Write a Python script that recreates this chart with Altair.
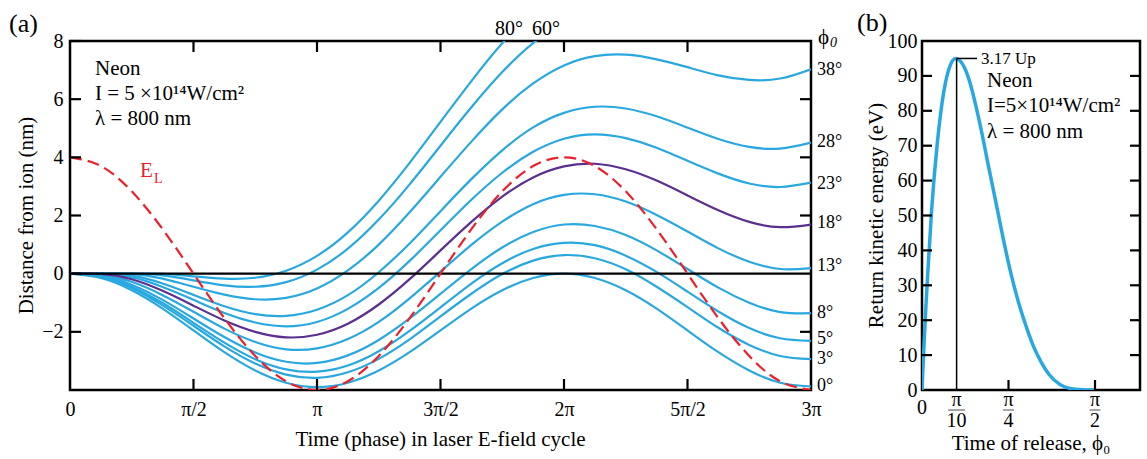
import altair as alt
import pandas as pd

BLUE = "#29a8e0"
PURPLE = "#5b2f8f"
RED = "#e8212d"
FONT = "Liberation Serif"

# ---------------- panel (a) data: time in units of pi ----------------
T = [0, 0.125, 0.25, 0.375, 0.5, 0.625, 0.75, 0.875, 1.0, 1.125, 1.25, 1.375, 1.5,
     1.625, 1.75, 1.875, 2.0, 2.125, 2.25, 2.375, 2.5, 2.625, 2.75, 2.875, 3.0]

D0 = [0, -0.15, -0.57, -1.20, -1.95, -2.70, -3.33, -3.75, -3.90, -3.75, -3.33, -2.70, -1.95,
      -1.20, -0.57, -0.15, 0, -0.15, -0.57, -1.20, -1.95, -2.70, -3.33, -3.75, -3.88]
D3 = [0, -0.11, -0.49, -1.09, -1.79, -2.50, -3.09, -3.47, -3.58, -3.39, -2.93, -2.26, -1.47,
      -0.69, -0.01, 0.45, 0.64, 0.53, 0.15, -0.45, -1.15, -1.86, -2.45, -2.83, -2.94]
D5 = [0, -0.09, -0.45, -1.01, -1.69, -2.37, -2.94, -3.29, -3.37, -3.16, -2.67, -1.97, -1.16,
      -0.34, 0.36, 0.85, 1.06, 0.98, 0.62, 0.06, -0.62, -1.30, -1.87, -2.22, -2.31]
D8 = [0, -0.06, -0.38, -0.90, -1.54, -2.18, -2.71, -3.03, -3.07, -2.81, -2.28, -1.54, -0.69,
      0.16, 0.90, 1.43, 1.69, 1.64, 1.33, 0.80, 0.16, -0.48, -1.00, -1.32, -1.36]
D13 = [0, -0.03, -0.28, -0.74, -1.31, -1.89, -2.35, -2.60, -2.57, -2.25, -1.66, -0.85, 0.07,
       0.99, 1.79, 2.39, 2.71, 2.73, 2.48, 2.02, 1.45, 0.87, 0.41, 0.16, 0.19]
D18 = [0, -0.01, -0.19, -0.59, -1.10, -1.61, -2.00, -2.19, -2.10, -1.72, -1.06, -0.19, 0.80,
       1.78, 2.65, 3.31, 3.69, 3.78, 3.59, 3.20, 2.69, 2.18, 1.78, 1.60, 1.69]
D23 = [0, 0, -0.12, -0.46, -0.90, -1.35, -1.68, -1.81, -1.66, -1.21, -0.49, 0.44, 1.49,
       2.54, 3.47, 4.19, 4.64, 4.79, 4.66, 4.33, 3.88, 3.44, 3.10, 2.98, 3.13]
D28 = [0, 0, -0.07, -0.34, -0.73, -1.12, -1.39, -1.45, -1.24, -0.74, 0.05, 1.04, 2.15,
       3.25, 4.24, 5.03, 5.53, 5.74, 5.68, 5.41, 5.02, 4.63, 4.36, 4.30, 4.51]
D38 = [0, 0, -0.01, -0.17, -0.45, -0.72, -0.88, -0.83, -0.51, 0.11, 1.00, 2.11, 3.33,
       4.54, 5.65, 6.54, 7.16, 7.48, 7.53, 7.37, 7.10, 6.82, 6.66, 6.71, 7.03]
D60 = [0, 0, 0, -0.06, -0.23, -0.40, -0.45, -0.29, 0.14, 0.86, 1.86, 3.07, 4.40,
       5.72, 6.93, 7.93, 8.66]
D80 = [0, 0, 0, -0.01, -0.09, -0.17, -0.14, 0.10, 0.61, 1.42, 2.51, 3.81, 5.22,
       6.62, 7.92, 9.01]

EL = [4.0, 3.70, 2.83, 1.53, 0.0, -1.53, -2.83, -3.70, -4.0, -3.70, -2.83, -1.53, 0.0,
      1.53, 2.83, 3.70, 4.0, 3.70, 2.83, 1.53, 0.0, -1.53, -2.83, -3.70, -4.0]

CURVES = {"0": D0, "3": D3, "5": D5, "8": D8, "13": D13, "18": D18, "23": D23,
          "28": D28, "38": D38, "60": D60, "80": D80}
PURPLE_CURVE = "18"

RIGHT_LABELS = ["38°", "28°", "23°", "18°", "13°", "8°", "5°", "3°", "0°"]
RIGHT_LABEL_Y = [7.0, 4.52, 3.1, 1.74, 0.27, -1.34, -2.26, -2.95, -3.86]

X_TICKS_A = [0, 0.5, 1, 1.5, 2, 2.5, 3]
X_TICK_LABELS_A = ["0", "π/2", "π", "3π/2", "2π", "5π/2", "3π"]
Y_TICKS_A = [-2, 0, 2, 4, 6, 8]
INNER_X_TICKS_A = [0.5, 1, 1.5, 2, 2.5]
RIGHT_Y_TICKS_A = [-2, 2, 4, 6]

# ---------------- panel (b) data: release phase in degrees ----------------
DEG = [0, 1, 2, 3, 5, 8, 10, 12, 14, 17.5, 22, 25, 28, 31, 35, 38, 42, 46, 50, 54, 58,
       62, 66, 72, 80, 90]
ENERGY = [0, 12.5, 23.5, 33.5, 51.5, 71, 80.5, 87.5, 92, 95, 92.5, 88, 81.5, 74, 63, 55,
          44, 34, 25.5, 18.5, 12.5, 8, 4.5, 1.5, 0.2, 0]
Y_TICKS_B = [0, 10, 20, 30, 40, 50, 60, 70, 80, 90, 100]
INNER_Y_TICKS_B = [10, 20, 30, 40, 50, 60, 70, 80, 90]
FRAC_DEG = [18, 45, 90]
FRAC_DEN = ["10", "4", "2"]
FRAC_W = [17, 11, 11]

WA, H, WB = 741, 349, 218
FS = 21

# ---------------- build panel (a) ----------------
rows = []
for name, vals in CURVES.items():
    for t, v in zip(T, vals):
        rows.append({"curve": name, "t": t, "x": v})
df = pd.DataFrame(rows)
df_blue = df[df.curve != PURPLE_CURVE]
df_purple = df[df.curve == PURPLE_CURVE]
df_el = pd.DataFrame({"t": T, "x": EL})

label_expr = " : ".join(
    f"datum.value == {v} ? '{s}'" for v, s in zip(X_TICKS_A[:-1], X_TICK_LABELS_A[:-1])
) + f" : '{X_TICK_LABELS_A[-1]}'"

xa = alt.X("t:Q", scale=alt.Scale(domain=[0, 3], nice=False, zero=False),
           axis=alt.Axis(values=X_TICKS_A, labelExpr=label_expr, title=None,
                         labelFlush=False, labelPadding=9))
ya = alt.Y("x:Q", scale=alt.Scale(domain=[-4, 8], nice=False, zero=False),
           axis=alt.Axis(values=Y_TICKS_A, title=None, labelPadding=7))


def txt(s, x, y, size=FS, align="left", color="black", style="normal", angle=0):
    return alt.Chart(pd.DataFrame({"s": [s]})).mark_text(
        font=FONT, fontSize=size, align=align, baseline="middle", color=color,
        fontStyle=style, angle=angle
    ).encode(x=alt.value(x), y=alt.value(y), text="s:N")


blue = alt.Chart(df_blue).mark_line(color=BLUE, strokeWidth=2.2, interpolate="natural",
                                    clip=True).encode(x=xa, y=ya, detail="curve:N")
purple = alt.Chart(df_purple).mark_line(color=PURPLE, strokeWidth=2.2, interpolate="natural",
                                        clip=True).encode(x=xa, y=ya)
zero = alt.Chart(pd.DataFrame({"x": [0]})).mark_rule(color="black", strokeWidth=2.2).encode(y=ya)
el = alt.Chart(df_el).mark_line(color=RED, strokeWidth=2.2, strokeDash=[12, 6],
                                interpolate="natural", clip=True).encode(x=xa, y=ya)

lt = alt.Chart(pd.DataFrame({"x": Y_TICKS_A})).mark_rule(color="black", strokeWidth=2.2).encode(
    y=ya, x=alt.value(0), x2=alt.value(11))
rt = alt.Chart(pd.DataFrame({"x": RIGHT_Y_TICKS_A})).mark_rule(color="black", strokeWidth=2.2).encode(
    y=ya, x=alt.value(WA - 11), x2=alt.value(WA))
tt = alt.Chart(pd.DataFrame({"t": INNER_X_TICKS_A})).mark_rule(color="black", strokeWidth=2.2).encode(
    x=xa, y=alt.value(0), y2=alt.value(11))
bt = alt.Chart(pd.DataFrame({"t": INNER_X_TICKS_A})).mark_rule(color="black", strokeWidth=2.2).encode(
    x=xa, y=alt.value(H - 11), y2=alt.value(H))

rlab = alt.Chart(pd.DataFrame({"x": RIGHT_LABEL_Y, "lab": RIGHT_LABELS})).mark_text(
    font=FONT, fontSize=18, align="left", baseline="middle", color="black"
).encode(y=ya, x=alt.value(WA + 6), text="lab:N")

panel_a = alt.layer(
    blue, purple, zero, el, lt, rt, tt, bt, rlab,
    txt("(a)", -61, -17, size=26),
    txt("Neon", 25, 28),
    txt("I = 5 ×10\u00b9\u2074W/cm\u00b2", 25, 53),
    txt("λ = 800 nm", 25, 78),
    txt("E", 70, 130, color=RED),
    txt("L", 84, 138, size=14, color=RED),
    txt("80°", 439, -12, size=20, align="center"),
    txt("60°", 476, -12, size=20, align="center"),
    txt("ϕ", 748, -3, size=21),
    txt("0", 760, 2, size=14, style="italic"),
    txt("Distance from ion (nm)", -43, H / 2, size=FS, align="center", angle=270),
    txt("Time (phase) in laser E-field cycle", WA / 2, H + 50, size=FS, align="center"),
).properties(width=WA, height=H)

# ---------------- build panel (b) ----------------
df_b = pd.DataFrame({"deg": DEG, "E": ENERGY})
xb = alt.X("deg:Q", scale=alt.Scale(domain=[0, 113.4], nice=False, zero=False), axis=None)
yb = alt.Y("E:Q", scale=alt.Scale(domain=[0, 100], nice=False, zero=False),
           axis=alt.Axis(values=Y_TICKS_B, title=None, labelPadding=5))

curve_b = alt.Chart(df_b).mark_line(color=BLUE, strokeWidth=3.5, interpolate="monotone",
                                    clip=True).encode(x=xb, y=yb)
vline = alt.Chart(pd.DataFrame({"deg": [18], "E": [0], "E2": [95]})).mark_rule(
    color="black", strokeWidth=1.5).encode(x=xb, y=yb, y2="E2:Q")
hline = alt.Chart(pd.DataFrame({"deg": [18], "deg2": [28.6], "E": [95]})).mark_rule(
    color="black", strokeWidth=1.5).encode(x=xb, x2="deg2:Q", y=yb)
ltb = alt.Chart(pd.DataFrame({"E": INNER_Y_TICKS_B})).mark_rule(color="black", strokeWidth=2.2).encode(
    y=yb, x=alt.value(0), x2=alt.value(10))
rtb = alt.Chart(pd.DataFrame({"E": INNER_Y_TICKS_B})).mark_rule(color="black", strokeWidth=2.2).encode(
    y=yb, x=alt.value(WB - 10), x2=alt.value(WB))
btb = alt.Chart(pd.DataFrame({"deg": FRAC_DEG[1:]})).mark_rule(color="black", strokeWidth=2.2).encode(
    x=xb, y=alt.value(H - 10), y2=alt.value(H))

df_frac = pd.DataFrame({"deg": FRAC_DEG, "den": FRAC_DEN, "w": FRAC_W, "num": ["π"] * 3})
frac_num = alt.Chart(df_frac).mark_text(font=FONT, fontSize=20, baseline="middle",
                                        color="black").encode(x=xb, y=alt.value(H + 10), text="num:N")
frac_bar = alt.Chart(df_frac).mark_tick(orient="horizontal", thickness=1, color="black").encode(
    x=xb, y=alt.value(H + 20), size=alt.Size("w:Q", scale=None))
frac_den = alt.Chart(df_frac).mark_text(font=FONT, fontSize=20, baseline="middle",
                                        color="black").encode(x=xb, y=alt.value(H + 31), text="den:N")
zero_b = alt.Chart(pd.DataFrame({"deg": [0], "s": ["0"]})).mark_text(
    font=FONT, fontSize=20, baseline="middle", color="black").encode(
    x=xb, y=alt.value(H + 18), text="s:N")

panel_b = alt.layer(
    curve_b, vline, hline, ltb, rtb, btb, frac_num, frac_bar, frac_den, zero_b,
    txt("(b)", -65, -18, size=26),
    txt("3.17 Up", 59, 18, size=17),
    txt("Neon", 65, 40),
    txt("I=5×10\u00b9\u2074W/cm\u00b2", 65, 65),
    txt("λ = 800 nm", 65, 91),
    txt("Return kinetic energy (eV)", -45, H / 2, size=FS, align="center", angle=270),
    txt("Time of release, ϕ\u2080", WB / 2, H + 54, size=FS, align="center"),
).properties(width=WB, height=H)

chart = alt.hconcat(panel_a, panel_b, spacing=111, bounds="flush").properties(
    padding={"left": 7, "top": 8, "right": 2, "bottom": 2}
).configure_view(stroke="black", strokeWidth=2.5).configure_axis(
    labelFont=FONT, labelFontSize=20, labelColor="black", ticks=False, domain=False,
    grid=False
)

chart.save("out.html", embed_options={"renderer": "svg", "actions": False})
